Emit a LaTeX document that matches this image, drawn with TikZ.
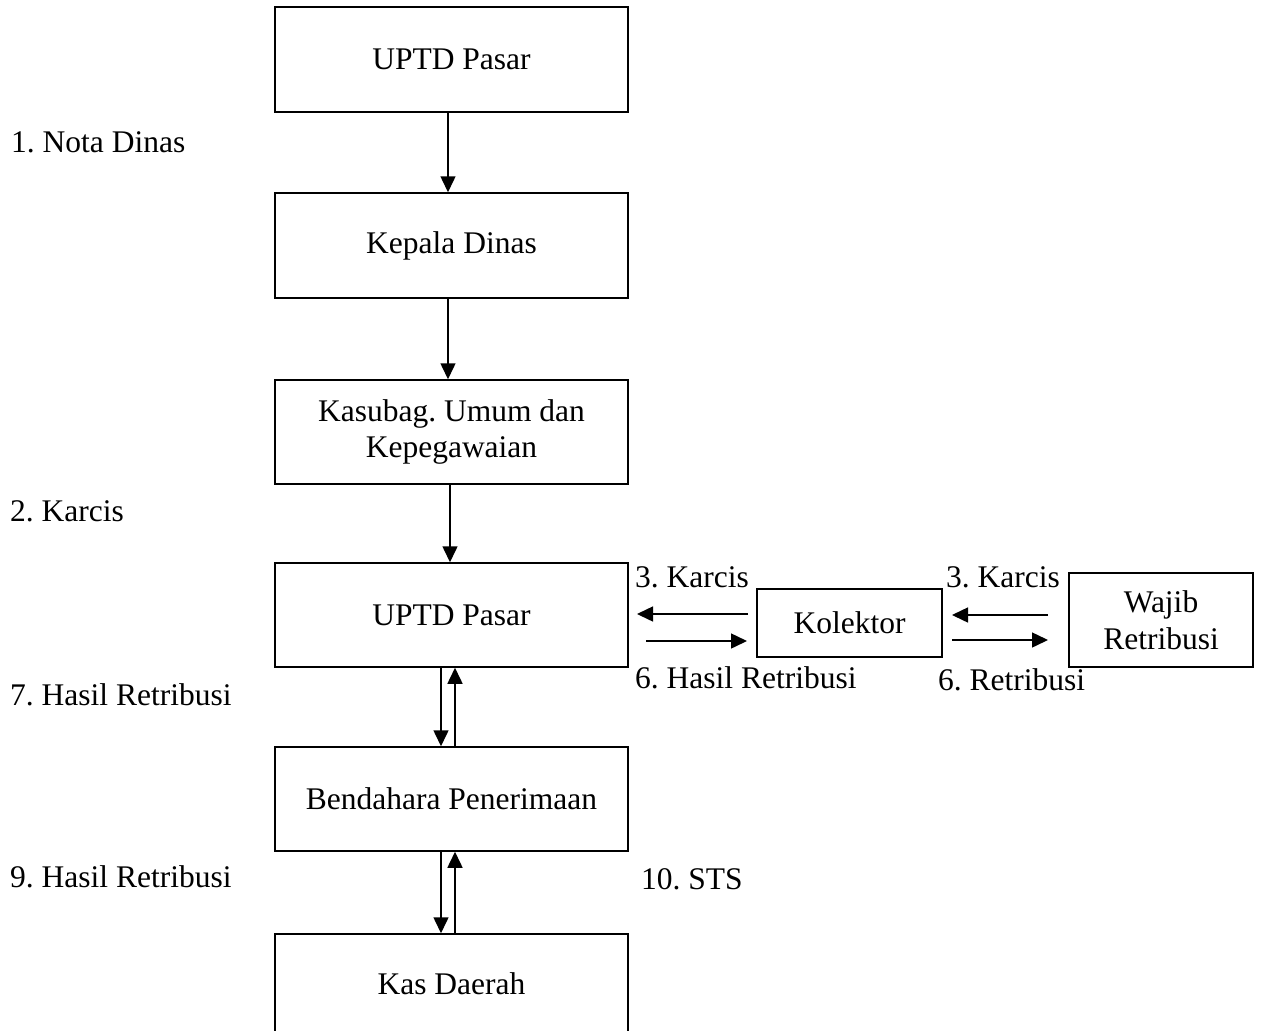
\documentclass[tikz,border=0pt]{standalone}
\usepackage{fontspec}
\setmainfont{Liberation Serif}
\usetikzlibrary{arrows.meta}
\frenchspacing
\begin{document}
\begin{tikzpicture}[x=1pt,y=-1pt,
  box/.style={draw,line width=1.5pt,inner sep=0pt,align=center,font=\fontsize{31.5}{36.5}\selectfont},
  bigbox/.style={box,minimum width=353pt,minimum height=105pt},
  lbl/.style={inner sep=0pt,anchor=base west,font=\fontsize{31.5}{36.5}\selectfont},
  arr/.style={line width=1.5pt,-{Triangle[length=16pt,width=15pt]}}]
\useasboundingbox (0,0) rectangle (1262,1031);
\begin{scope}
\clip (0,0) rectangle (1262,1031);
\node[bigbox] (b1) at (451.5,59.5) {UPTD Pasar};
\node[bigbox] (b2) at (451.5,245.5) {Kepala Dinas};
\node[bigbox,minimum height=104pt] (b3) at (451.5,432) {Kasubag. Umum dan\\Kepegawaian};
\node[bigbox,minimum height=104pt] (b4) at (451.5,615) {UPTD Pasar};
\node[bigbox,minimum height=104pt] (b5) at (451.5,799) {Bendahara Penerimaan};
\node[bigbox,minimum height=99pt] (b6) at (451.5,983.5) {Kas Daerah};
\end{scope}
\node[box,minimum width=185pt,minimum height=68pt] (kol) at (849.5,623) {Kolektor};
\node[box,minimum width=184pt,minimum height=94pt] (wr) at (1161,620) {Wajib\\Retribusi};

\draw[arr] ([xshift=-3.5pt]b1.south) -- ([xshift=-3.5pt]b2.north);
\draw[arr] ([xshift=-3.5pt]b2.south) -- ([xshift=-3.5pt]b3.north);
\draw[arr] ([xshift=-1.5pt]b3.south) -- ([xshift=-1.5pt]b4.north);
\draw[arr] ([xshift=-10.5pt]b4.south) -- ([xshift=-10.5pt]b5.north);
\draw[arr] ([xshift=3.5pt]b5.north) -- ([xshift=3.5pt]b4.south);
\draw[arr] ([xshift=-10.5pt]b5.south) -- ([xshift=-10.5pt]b6.north);
\draw[arr] ([xshift=3.5pt]b6.north) -- ([xshift=3.5pt]b5.south);

\coordinate (p1) at (748,614);
\coordinate (p2) at (637,614);
\coordinate (p3) at (646,641);
\coordinate (p4) at (747,641);
\coordinate (q1) at (1048,615);
\coordinate (q2) at (952,615);
\coordinate (q3) at (952,640);
\coordinate (q4) at (1048,640);
\draw[arr] (p1) -- (p2);
\draw[arr] (p3) -- (p4);
\draw[arr] (q1) -- (q2);
\draw[arr] (q3) -- (q4);

\node[lbl] (l1) at (11,152) {1. Nota Dinas};
\node[lbl] (l2) at (10,521) {2. Karcis};
\node[lbl] (l7) at (10,705) {7. Hasil Retribusi};
\node[lbl] (l9) at (10,887) {9. Hasil Retribusi};
\node[lbl] (l10) at (641,889) {10. STS};
\node[lbl] (l3a) at (635,587) {3. Karcis};
\node[lbl] (l6a) at (635,688) {6. Hasil Retribusi};
\node[lbl] (l3b) at (946,587) {3. Karcis};
\node[lbl] (l6b) at (938,690) {6. Retribusi};
\end{tikzpicture}
\end{document}
